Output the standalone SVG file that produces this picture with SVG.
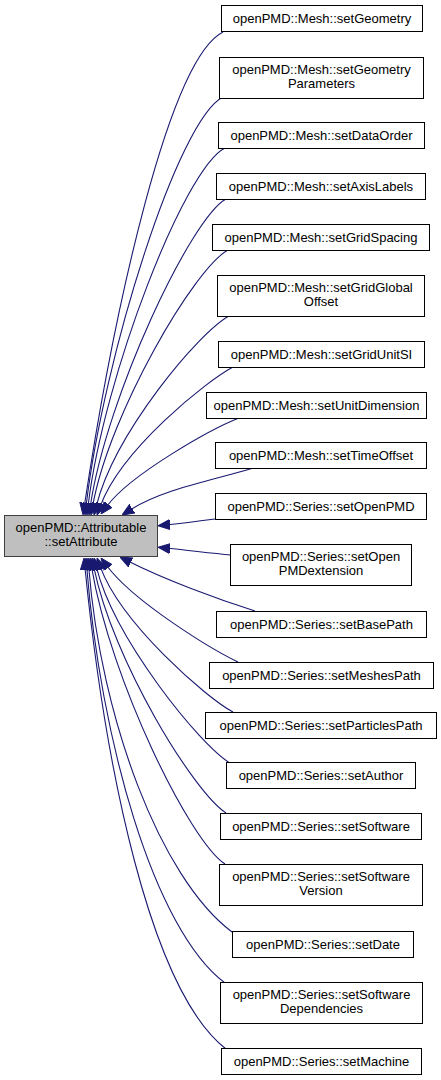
<svg xmlns="http://www.w3.org/2000/svg" width="441" height="1080" viewBox="0 0 441 1080">
<style>
.n rect{fill:#ffffff;stroke:#000000;stroke-width:1}
.m rect{fill:#bfbfbf;stroke:#404040;stroke-width:1}
text{font-family:"Liberation Sans",Arial,sans-serif;font-size:13px;fill:#000000;text-anchor:middle}
.e path{fill:none;stroke:#191970;stroke-width:1.1;marker-end:url(#ah)}
</style>
<defs>
<marker id="ah" markerUnits="userSpaceOnUse" markerWidth="12" markerHeight="11" viewBox="0 0 12 11" refX="2" refY="5.5" orient="auto">
<path d="M0,0.5 L12,5.5 L0,10.5 z" fill="#191970" stroke="#191970" stroke-width="1"/>
</marker>
</defs>
<rect width="441" height="1080" fill="#ffffff"/>
<g id="edges" class="e">
<path d="M223,32 C169,59 114.5,307 84.5,505"/>
<path d="M223,97 C178,119.5 104,356 86.2,505"/>
<path d="M225,148 C184.5,168 103.8,376 88.2,505"/>
<path d="M226,199 C191,218 107,396 90.5,505"/>
<path d="M228,250 C194.6,268 110,412 92.8,505.2"/>
<path d="M229,316 C198,333 115,433 96.5,505.3"/>
<path d="M233,367 C206.6,381 121.5,449 100.5,505.6"/>
<path d="M239,418 C211,429 131,474 107,506"/>
<path d="M253,468 C215,480 164.5,488.5 130.5,509.7"/>
<path d="M215,519 C200,521 185,523 168,524.8"/>
<path d="M231,555 C210,553 190,550.5 168,548.3"/>
<path d="M255,611 C217,599 164.5,579.5 128.9,561.5"/>
<path d="M238,662 C211,649 134,602 107,566"/>
<path d="M233,712 C206.6,698 121.5,624 100.5,567.4"/>
<path d="M230,763 C200,745 115,640 96.5,567.7"/>
<path d="M226,813 C194,792.5 113,661 94,567.8"/>
<path d="M225,864 C189.7,841 111,681 91.7,567.9"/>
<path d="M232,932 C160,878 100.8,717.6 88.8,568"/>
<path d="M225,983 C153,929 100.4,737.5 86.8,568"/>
<path d="M226,1049 C150,990 105,767 85,568"/>
</g>
<g id="main" class="m"><rect x="4.5" y="515.5" width="153" height="41"/><text x="81" y="532">openPMD::Attributable</text><text x="81" y="546">::setAttribute</text></g>
<g id="n1" class="n"><rect x="221.5" y="5.5" width="201" height="26"/><text x="322" y="22.5">openPMD::Mesh::setGeometry</text></g>
<g id="n2" class="n"><rect x="219.5" y="57.5" width="204" height="41"/><text x="321.5" y="74">openPMD::Mesh::setGeometry</text><text x="321.5" y="88">Parameters</text></g>
<g id="n3" class="n"><rect x="218.5" y="122.5" width="206" height="26"/><text x="321.5" y="139.5">openPMD::Mesh::setDataOrder</text></g>
<g id="n4" class="n"><rect x="216.5" y="173.5" width="209" height="26"/><text x="321" y="190.5">openPMD::Mesh::setAxisLabels</text></g>
<g id="n5" class="n"><rect x="212.5" y="224.5" width="217" height="26"/><text x="321" y="241.5">openPMD::Mesh::setGridSpacing</text></g>
<g id="n6" class="n"><rect x="217.5" y="275.5" width="207" height="41"/><text x="321" y="292">openPMD::Mesh::setGridGlobal</text><text x="321" y="306">Offset</text></g>
<g id="n7" class="n"><rect x="218.5" y="341.5" width="206" height="26"/><text x="321.5" y="358.5">openPMD::Mesh::setGridUnitSI</text></g>
<g id="n8" class="n"><rect x="206.5" y="392.5" width="220" height="26"/><text x="316.5" y="409.5">openPMD::Mesh::setUnitDimension</text></g>
<g id="n9" class="n"><rect x="215.5" y="442.5" width="211" height="26"/><text x="321" y="459.5">openPMD::Mesh::setTimeOffset</text></g>
<g id="n10" class="n"><rect x="215.5" y="493.5" width="211" height="26"/><text x="321" y="510.5">openPMD::Series::setOpenPMD</text></g>
<g id="n11" class="n"><rect x="230.5" y="544.5" width="181" height="41"/><text x="321" y="561">openPMD::Series::setOpen</text><text x="321" y="575">PMDextension</text></g>
<g id="n12" class="n"><rect x="216.5" y="611.5" width="210" height="26"/><text x="321.5" y="628.5">openPMD::Series::setBasePath</text></g>
<g id="n13" class="n"><rect x="209.5" y="662.5" width="224" height="26"/><text x="321.5" y="679.5">openPMD::Series::setMeshesPath</text></g>
<g id="n14" class="n"><rect x="205.5" y="712.5" width="231" height="26"/><text x="321" y="729.5">openPMD::Series::setParticlesPath</text></g>
<g id="n15" class="n"><rect x="226.5" y="762.5" width="189" height="26"/><text x="321" y="779.5">openPMD::Series::setAuthor</text></g>
<g id="n16" class="n"><rect x="220.5" y="813.5" width="201" height="26"/><text x="321" y="830.5">openPMD::Series::setSoftware</text></g>
<g id="n17" class="n"><rect x="219.5" y="864.5" width="203" height="41"/><text x="321" y="881">openPMD::Series::setSoftware</text><text x="321" y="895">Version</text></g>
<g id="n18" class="n"><rect x="232.5" y="931.5" width="181" height="26"/><text x="323" y="948.5">openPMD::Series::setDate</text></g>
<g id="n19" class="n"><rect x="220.5" y="982.5" width="202" height="41"/><text x="321.5" y="999">openPMD::Series::setSoftware</text><text x="321.5" y="1013">Dependencies</text></g>
<g id="n20" class="n"><rect x="221.5" y="1048.5" width="200" height="26"/><text x="321.5" y="1065.5">openPMD::Series::setMachine</text></g>
</svg>
